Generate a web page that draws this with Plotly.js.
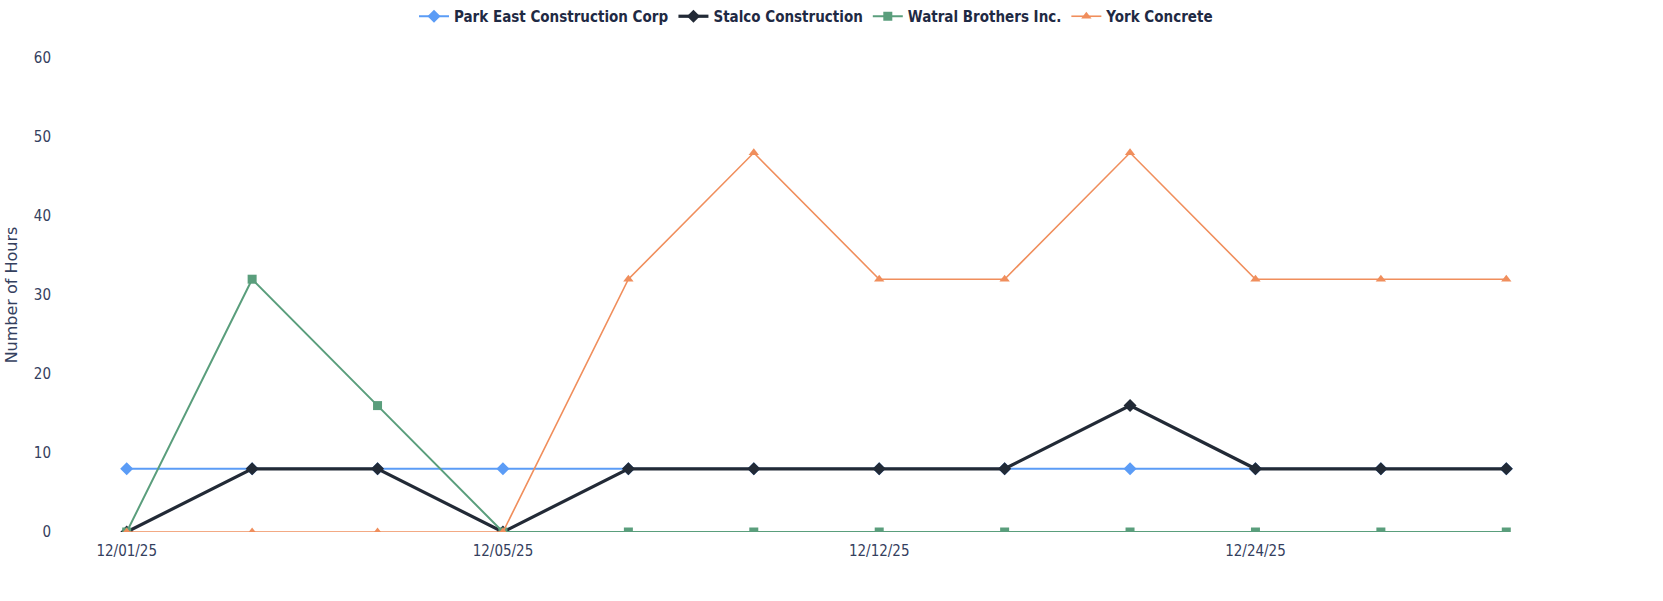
<!DOCTYPE html>
<html>
<head>
<meta charset="utf-8">
<script src="https://cdn.plot.ly/plotly-3.0.1.min.js"></script>
<style>html,body{margin:0;padding:0;background:#fff;}#chart{width:1663px;height:601px;}</style>
</head>
<body>
<div id="chart"></div>
<script>
const categories = ["12/01/25","12/02/25","12/03/25","12/05/25","12/08/25","12/10/25","12/12/25","12/15/25","12/19/25","12/24/25","12/26/25","12/29/25"];
const tickLabels = ["12/01/25","12/05/25","12/12/25","12/24/25"];
const parkEast = [8,8,8,8,8,8,8,8,8,8,8,8];
const stalco   = [0,8,8,0,8,8,8,8,16,8,8,8];
const watral   = [0,32,16,0,0,0,0,0,0,0,0,0];
const york     = [0,0,0,0,32,48,32,32,48,32,32,32];

const series = [
  {name:"Park East Construction Corp", y:parkEast, color:"#5b9cf6", symbol:"diamond", width:2, size:10},
  {name:"Stalco Construction", y:stalco, color:"#222a36", symbol:"diamond", width:3.2, size:10},
  {name:"Watral Brothers Inc.", y:watral, color:"#5a9e7c", symbol:"square", width:2, size:9},
  {name:"York Concrete", y:york, color:"#f08e5c", symbol:"triangle-up", width:1.6, size:9}
];

const traces = series.map(s => ({
  type:"scatter", mode:"lines+markers", name:s.name, x:categories, y:s.y,
  line:{color:s.color, width:s.width},
  marker:{color:s.color, symbol:s.symbol, size:s.size}
}));

const condensed = "'Liberation Sans Narrow', 'Arial Narrow', 'DejaVu Sans Condensed', sans-serif";

const layout = {
  width:1663, height:601,
  margin:{l:64, r:94, t:58, b:69},
  paper_bgcolor:"#fff", plot_bgcolor:"#fff",
  showlegend:true,
  legend:{orientation:"h", x:0.5, xanchor:"center", y:1.0, yref:"container", yanchor:"top",
    font:{family:condensed, size:15, color:"#1f2a44", weight:"bold"}, itemwidth:30, tracegroupgap:0},
  xaxis:{type:"category", range:[-0.5,11.5], tickmode:"array",
    tickvals:tickLabels, ticktext:tickLabels,
    showgrid:false, zeroline:false, showline:false, ticks:"", ticklabelstandoff:8,
    tickfont:{family:condensed, size:15, color:"#34405e"}},
  yaxis:{range:[0,60], dtick:10, showgrid:false, zeroline:false, showline:false,
    tickfont:{family:condensed, size:15, color:"#34405e"}, ticklabelstandoff:12,
    title:{text:"Number of Hours", font:{family:"'DejaVu Sans', sans-serif", size:16, color:"#34405e"}, standoff:12}}
};

Plotly.newPlot("chart", traces, layout, {displayModeBar:false, staticPlot:true});
</script>
</body>
</html>
